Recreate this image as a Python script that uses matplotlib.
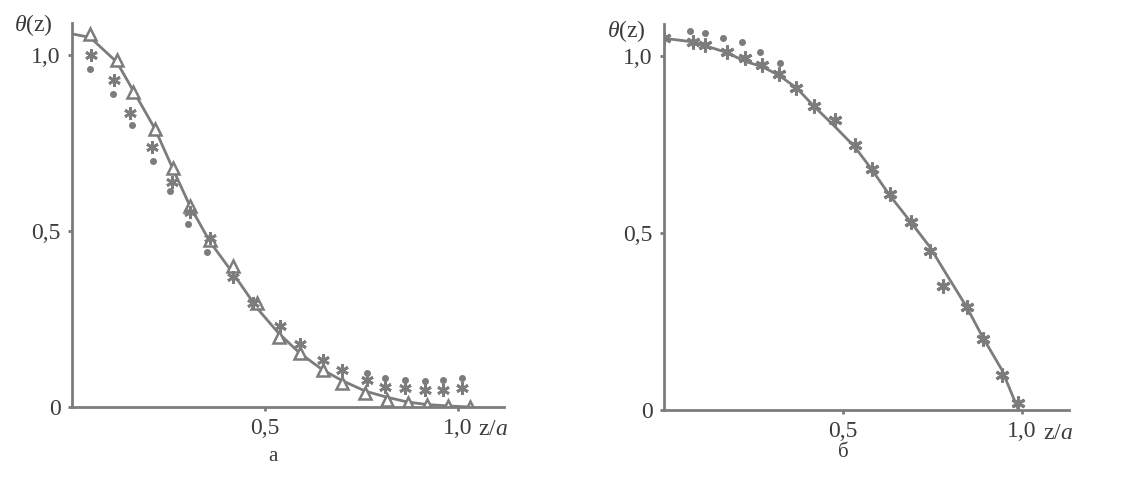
import matplotlib
matplotlib.use('Agg')
import matplotlib.pyplot as plt

# panel a: smooth curve
curve_a_z = [0.0, 0.047, 0.116, 0.158, 0.215, 0.262, 0.306, 0.357, 0.417, 0.48, 0.535,
             0.59, 0.65, 0.70, 0.76, 0.815, 0.87, 0.92, 0.975, 1.03]
curve_a_y = [1.06, 1.05, 0.98, 0.90, 0.79, 0.675, 0.57, 0.47, 0.38, 0.28, 0.21,
             0.153, 0.105, 0.075, 0.045, 0.028, 0.014, 0.007, 0.003, 0.0]
# panel a: triangles
tri_a_z = [0.047, 0.116, 0.158, 0.215, 0.262, 0.306, 0.357, 0.417, 0.48, 0.535,
           0.59, 0.65, 0.70, 0.76, 0.815, 0.87, 0.92, 0.975, 1.03]
tri_a_y = [1.06, 0.985, 0.895, 0.79, 0.68, 0.57, 0.475, 0.40, 0.295, 0.20,
           0.153, 0.105, 0.068, 0.04, 0.02, 0.011, 0.005, 0.003, 0.0]
# panel a: stars
star_a_z = [0.05, 0.11, 0.15, 0.207, 0.26, 0.306, 0.357, 0.417, 0.47, 0.54,
            0.59, 0.65, 0.70, 0.764, 0.81, 0.863, 0.915, 0.96, 1.01]
star_a_y = [1.0, 0.93, 0.835, 0.74, 0.64, 0.555, 0.48, 0.37, 0.295, 0.23,
            0.18, 0.133, 0.105, 0.077, 0.057, 0.054, 0.048, 0.048, 0.054]
# panel a: dots
dot_a_z = [0.047, 0.107, 0.155, 0.21, 0.255, 0.30, 0.35, 0.764, 0.81, 0.863, 0.915, 0.96, 1.01]
dot_a_y = [0.96, 0.89, 0.80, 0.70, 0.615, 0.52, 0.44, 0.097, 0.082, 0.077, 0.074, 0.077, 0.082]

# panel b: curve
curve_b_z = [0.0, 0.08, 0.175, 0.226, 0.274, 0.32, 0.37, 0.42, 0.478, 0.533, 0.58,
             0.63, 0.69, 0.743, 0.785, 0.846, 0.89, 0.944, 0.99]
curve_b_y = [1.05, 1.04, 1.01, 0.985, 0.97, 0.946, 0.91, 0.857, 0.80, 0.743, 0.68,
             0.607, 0.53, 0.46, 0.39, 0.29, 0.206, 0.113, 0.0]
# panel b: stars
star_b_z = [0.0, 0.08, 0.115, 0.175, 0.226, 0.274, 0.32, 0.37, 0.42, 0.478, 0.533,
            0.58, 0.63, 0.69, 0.743, 0.78, 0.846, 0.89, 0.944, 0.99]
star_b_y = [1.05, 1.04, 1.03, 1.01, 0.995, 0.975, 0.95, 0.91, 0.86, 0.82, 0.75,
            0.68, 0.61, 0.53, 0.45, 0.35, 0.29, 0.20, 0.10, 0.02]
# panel b: dots
dot_b_z = [0.073, 0.115, 0.165, 0.218, 0.268, 0.324]
dot_b_y = [1.07, 1.065, 1.05, 1.04, 1.01, 0.98]

gray = '#7c7c7c'
txt = '#3c3c3c'
font = 'Liberation Serif'
plt.rcParams['mathtext.fontset'] = 'custom'
plt.rcParams['mathtext.it'] = 'Liberation Serif:italic'
plt.rcParams['mathtext.rm'] = 'Liberation Serif'

fig = plt.figure(figsize=(11.21, 4.83), dpi=100)

# axes placed in pixel terms: (left px, bottom px, x extent, y extent, px per unit x, px per unit y)
def make_axes(left, bottom, xmax, ymax, ux, uy, ylab_y):
    W, H = 1121, 483
    ax = fig.add_axes([left / W, (H - bottom) / H, xmax * ux / W, ymax * uy / H])
    ax.set_xlim(0, xmax)
    ax.set_ylim(0, ymax)
    for s in ['top', 'right']:
        ax.spines[s].set_visible(False)
    for s in ['left', 'bottom']:
        ax.spines[s].set_color(gray)
        ax.spines[s].set_linewidth(2)
    ax.set_xticks([0.5, 1.0])
    ax.set_xticklabels(['0,5', '1,0'])
    ax.set_yticks([0, 0.5, 1.0])
    ax.set_yticklabels(['0', '0,5', '1,0'])
    ax.tick_params(length=3, width=2, color=gray, labelcolor=txt, labelsize=17, pad=5)
    for lab in ax.get_xticklabels() + ax.get_yticklabels():
        lab.set_family(font)
    ax.text(-0.05, ylab_y, r'$\theta$(z)', ha='right', va='center', fontsize=17,
            color=txt, family=font, clip_on=False)
    ax.text(xmax - 0.03, -0.065, r'z/$a$', ha='center', va='center', fontsize=17,
            color=txt, family=font)
    return ax

ax1 = make_axes(72, 407, 1.12, 1.09, 386, 352, 1.085)
ax1.plot(curve_a_z, curve_a_y, color=gray, lw=2)
ax1.plot(tri_a_z, tri_a_y, ls='none', marker='^', ms=8, mfc='white', mec=gray, mew=1.8)
ax1.plot(star_a_z, star_a_y, ls='none', marker=(6, 2, 0), ms=9, color=gray, mew=2)
ax1.plot(dot_a_z, dot_a_y, ls='none', marker='o', ms=4, color=gray)
ax1.text(0.52, -0.14, 'а', ha='center', va='center', fontsize=15, color=txt, family=font)

ax2 = make_axes(664, 410, 1.13, 1.09, 358, 354, 1.07)
ax2.plot(curve_b_z, curve_b_y, color=gray, lw=2)
ax2.plot(star_b_z, star_b_y, ls='none', marker=(6, 2, 0), ms=10, color=gray, mew=2.2)
ax2.plot(dot_b_z, dot_b_y, ls='none', marker='o', ms=4, color=gray)
ax2.text(0.5, -0.12, 'б', ha='center', va='center', fontsize=15, color=txt, family=font)

fig.savefig('out.png', dpi=100)
